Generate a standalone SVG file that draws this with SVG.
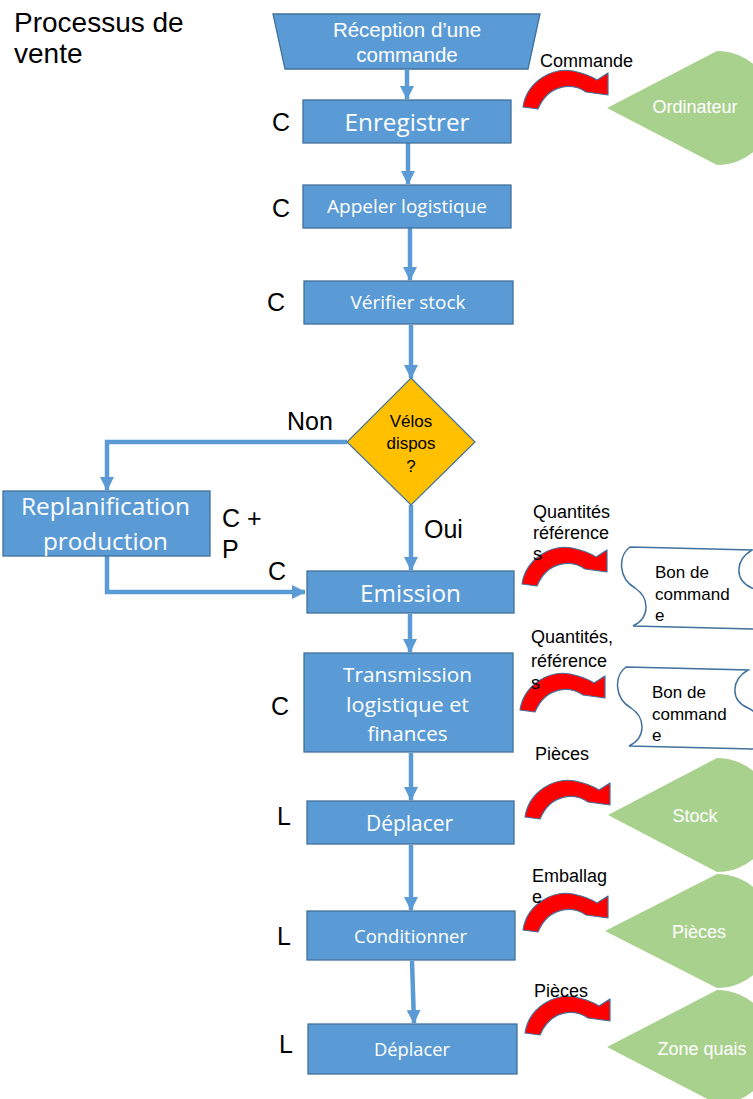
<svg xmlns="http://www.w3.org/2000/svg" xmlns:xlink="http://www.w3.org/1999/xlink" width="753" height="1099" viewBox="0 0 753 1099">
<defs>
<style>
.box{fill:#5B9BD5;stroke:#41719C;stroke-width:1.3}
.bt{font-family:"Open Sans","Liberation Sans",sans-serif;fill:#fff;text-anchor:middle}
.at{font-family:"Liberation Sans",Arial,sans-serif}
.lbl{font-family:"Liberation Sans",Arial,sans-serif;font-size:25px;fill:#000}
.sm{font-family:"Liberation Sans",Arial,sans-serif;font-size:17px;fill:#000}
.fl{font-family:"Liberation Sans",Arial,sans-serif;font-size:18px;fill:#000}
.green{fill:#A9D18E}
.gt{font-family:"Liberation Sans",Arial,sans-serif;font-size:18px;fill:#fff;text-anchor:middle}
.doc{fill:#fff;stroke:#41719C;stroke-width:1.5}
.conn{fill:none;stroke:#5B9BD5;stroke-width:4.5}
.red{fill:#FF0000;stroke:#41719C;stroke-width:1.2;stroke-linejoin:round}
</style>
<marker id="ah" markerUnits="userSpaceOnUse" markerWidth="14" markerHeight="14" refX="13" refY="7" orient="auto">
<path d="M0,0 L14,7 L0,14 Z" fill="#5B9BD5"/>
</marker>
<path id="redArrow" class="red" d="M0,36 C4,10 30,-4 50,0 C60,2 68,5 74,9 L85,2 L85,24 L63,21 C50,12 26,12 15,38 Z"/>
<path id="docShape" class="doc" d="M630,547 L752,550 C735,560 734,580 752,588 C768,595 768,620 757,629 L633,626 C650,618 650,598 635,588 C618,578 618,556 630,547 Z"/>
</defs>

<g id="title">
<text class="at" x="14" y="32" font-size="28">Processus de</text>
<text class="at" x="14" y="63" font-size="28">vente</text>
</g>

<g id="connectors">
<line class="conn" x1="407" y1="70" x2="407" y2="99" marker-end="url(#ah)"/>
<line class="conn" x1="408" y1="143" x2="408" y2="184" marker-end="url(#ah)"/>
<line class="conn" x1="410" y1="228" x2="410" y2="280" marker-end="url(#ah)"/>
<line class="conn" x1="411" y1="325" x2="411" y2="378" marker-end="url(#ah)"/>
<polyline class="conn" points="347,442 107,442 107,490" marker-end="url(#ah)"/>
<line class="conn" x1="411" y1="505" x2="411" y2="570" marker-end="url(#ah)"/>
<polyline class="conn" points="107,556 107,592 305,592" marker-end="url(#ah)"/>
<line class="conn" x1="410" y1="614" x2="410" y2="652" marker-end="url(#ah)"/>
<line class="conn" x1="411" y1="753" x2="411" y2="800" marker-end="url(#ah)"/>
<line class="conn" x1="411" y1="845" x2="411" y2="910" marker-end="url(#ah)"/>
<line class="conn" x1="412" y1="961" x2="414" y2="1023" marker-end="url(#ah)"/>
</g>

<g id="reception">
<path class="box" d="M273,14 L540,14 L528,69 L285,69 Z"/>
<text class="at" x="407" y="37" font-size="20.5" fill="#fff" text-anchor="middle">Réception d’une</text>
<text class="at" x="407" y="62" font-size="20.5" fill="#fff" text-anchor="middle">commande</text>
</g>

<g id="enregistrer">
<rect class="box" x="303" y="100" width="208" height="43"/>
<text class="bt" x="407" y="131" font-size="24" textLength="125" lengthAdjust="spacingAndGlyphs">Enregistrer</text>
<text class="lbl" x="272" y="131">C</text>
</g>

<g id="appeler">
<rect class="box" x="303" y="185" width="208" height="43"/>
<text class="bt" x="407" y="213" font-size="18.5" textLength="160" lengthAdjust="spacingAndGlyphs">Appeler logistique</text>
<text class="lbl" x="272" y="217">C</text>
</g>

<g id="verifier">
<rect class="box" x="304" y="281" width="209" height="43"/>
<text class="bt" x="408" y="309" font-size="17.5" textLength="115" lengthAdjust="spacingAndGlyphs">Vérifier stock</text>
<text class="lbl" x="267" y="311">C</text>
</g>

<g id="decision">
<path d="M411,378 L475,442 L411,505 L347,442 Z" fill="#FFC000" stroke="#41719C" stroke-width="1.2"/>
<text class="sm" x="411" y="427" text-anchor="middle" font-size="17.5">Vélos</text>
<text class="sm" x="411" y="449" text-anchor="middle" font-size="17.5">dispos</text>
<text class="sm" x="411" y="472" text-anchor="middle" font-size="17.5">?</text>
<text class="lbl" x="287" y="430" font-size="26">Non</text>
<text class="lbl" x="424" y="538" font-size="27">Oui</text>
</g>

<g id="replanification">
<rect class="box" x="3" y="491" width="207" height="65"/>
<text class="bt" x="105.5" y="515" font-size="23" textLength="169" lengthAdjust="spacingAndGlyphs">Replanification</text>
<text class="bt" x="105.5" y="550" font-size="23" textLength="125" lengthAdjust="spacingAndGlyphs">production</text>
<text class="lbl" x="222" y="527">C +</text>
<text class="lbl" x="222" y="558">P</text>
</g>

<g id="emission">
<rect class="box" x="307" y="571" width="207" height="42"/>
<text class="bt" x="410.5" y="602" font-size="23" textLength="101" lengthAdjust="spacingAndGlyphs">Emission</text>
<text class="lbl" x="268" y="580">C</text>
</g>

<g id="transmission">
<rect class="box" x="304" y="653" width="209" height="99"/>
<text class="bt" x="407.5" y="682" font-size="20" textLength="129" lengthAdjust="spacingAndGlyphs">Transmission</text>
<text class="bt" x="407.5" y="712" font-size="20" textLength="123" lengthAdjust="spacingAndGlyphs">logistique et</text>
<text class="bt" x="407.5" y="741" font-size="20" textLength="80" lengthAdjust="spacingAndGlyphs">finances</text>
<text class="lbl" x="271" y="715">C</text>
</g>

<g id="deplacer1">
<rect class="box" x="307" y="801" width="207" height="43"/>
<text class="bt" x="409.5" y="831" font-size="21" textLength="87" lengthAdjust="spacingAndGlyphs">Déplacer</text>
<text class="lbl" x="277" y="825">L</text>
</g>

<g id="conditionner">
<rect class="box" x="307" y="911" width="208" height="49"/>
<text class="bt" x="410.5" y="943" font-size="19" textLength="113" lengthAdjust="spacingAndGlyphs">Conditionner</text>
<text class="lbl" x="277" y="945">L</text>
</g>

<g id="deplacer2">
<rect class="box" x="308" y="1024" width="209" height="50"/>
<text class="bt" x="412" y="1056" font-size="18" textLength="76" lengthAdjust="spacingAndGlyphs">Déplacer</text>
<text class="lbl" x="279" y="1053">L</text>
</g>

<g id="flow-commande">
<use xlink:href="#redArrow" href="#redArrow" transform="translate(523,71)"/>
<text class="fl" x="540" y="67">Commande</text>
</g>
<g id="ordinateur">
<path class="green" d="M607,108 L717,51 A57,57 0 0 1 717,165 Z"/>
<text class="gt" x="695" y="113">Ordinateur</text>
</g>

<g id="flow-quantites1">
<use xlink:href="#redArrow" href="#redArrow" transform="translate(522,548)"/>
<text class="fl" x="533" y="518">Quantités</text>
<text class="fl" x="533" y="539">référence</text>
<text class="fl" x="533" y="560">s</text>
</g>
<g id="bon1">
<use xlink:href="#docShape" href="#docShape"/>
<text class="sm" x="655" y="578">Bon de</text>
<text class="sm" x="655" y="600">command</text>
<text class="sm" x="655" y="621">e</text>
</g>

<g id="flow-quantites2">
<use xlink:href="#redArrow" href="#redArrow" transform="translate(520,674)"/>
<text class="fl" x="531" y="643">Quantités,</text>
<text class="fl" x="531" y="667">référence</text>
<text class="fl" x="531" y="689">s</text>
</g>
<g id="bon2">
<use xlink:href="#docShape" href="#docShape" transform="translate(-4,120)"/>
<text class="sm" x="652" y="698">Bon de</text>
<text class="sm" x="652" y="720">command</text>
<text class="sm" x="652" y="741">e</text>
</g>

<g id="flow-pieces1">
<use xlink:href="#redArrow" href="#redArrow" transform="translate(525,781)"/>
<text class="fl" x="535" y="760">Pièces</text>
</g>
<g id="stock">
<path class="green" d="M608,815 L717,758 A57,57 0 0 1 717,872 Z"/>
<text class="gt" x="695" y="822">Stock</text>
</g>

<g id="flow-emballage">
<use xlink:href="#redArrow" href="#redArrow" transform="translate(523,894)"/>
<text class="fl" x="532" y="882">Emballag</text>
<text class="fl" x="532" y="903">e</text>
</g>
<g id="pieces">
<path class="green" d="M605,931 L717,874 A57,57 0 0 1 717,988 Z"/>
<text class="gt" x="699" y="938">Pièces</text>
</g>

<g id="flow-pieces2">
<use xlink:href="#redArrow" href="#redArrow" transform="translate(525,997)"/>
<text class="fl" x="534" y="997">Pièces</text>
</g>
<g id="zone-quais">
<path class="green" d="M607,1047 L717,990 A57,57 0 0 1 717,1104 Z"/>
<text class="gt" x="702" y="1055">Zone quais</text>
</g>
</svg>
